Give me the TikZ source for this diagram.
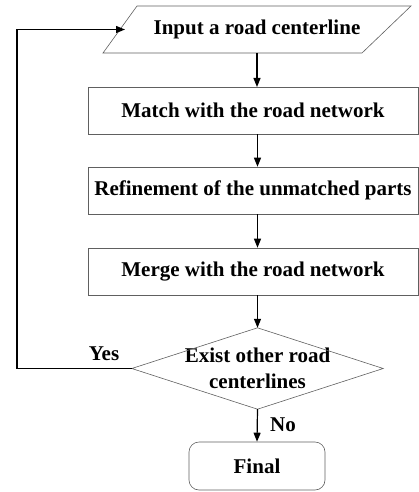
\documentclass[tikz,border=0pt]{standalone}
\usepackage{fontspec}
\setmainfont{Liberation Serif}
\usetikzlibrary{shapes.geometric,arrows.meta}
\begin{document}
\begin{tikzpicture}[x=1pt,y=-1pt,
  txt/.style={font=\fontsize{21}{26.5}\selectfont\bfseries, text=black},
  border/.style={draw=gray!75!black, line width=0.6pt},
  procbox/.style={txt, border, minimum width=330pt, minimum height=47pt, inner sep=0pt},
  decbox/.style={txt, minimum width=251pt, minimum height=81pt, inner sep=0pt, align=center},
  endbox/.style={txt, border, rounded corners=10pt, minimum width=136pt, minimum height=48pt, inner sep=0pt},
  flow/.style={line width=1.2pt, -{Triangle[length=9pt,width=7pt]}},
  lbl/.style={txt}]
\useasboundingbox (0,0) rectangle (419,492);
% parallelogram input
\node[txt, minimum width=240pt, minimum height=47pt, inner sep=0pt] (input) at (257,29.5) {Input a road centerline};
\draw[border] (137,6) -- (411,6) -- (362,53) -- (103,53) -- cycle;
\coordinate (inleft) at (125,29.5);
\node[procbox] (match) at (253,110.5) {Match with the road network};
\node[procbox] (refine) at (253,190.5) {Refinement of the unmatched parts};
\node[procbox] (merge) at (253,271.5) {Merge with the road network};
\node[decbox] (exist) at (257.5,368.5) {Exist other road\\centerlines};
\draw[border] (exist.north) -- (exist.east) -- (exist.south) -- (exist.west) -- cycle;
\node[endbox] (final) at (257,466) {Final};
\draw[flow] (257,53) -- (257,87);
\draw[flow] (match.south -| exist.north) -- (refine.north -| exist.north);
\draw[flow] (refine.south -| exist.north) -- (merge.north -| exist.north);
\draw[flow] (merge.south -| exist.north) -- (exist.north);
\draw[flow] (exist.south) -- (final.north);
\coordinate (loopbot) at (17,368.5);
\coordinate (looptop) at (17,29.5);
\draw[flow] (exist.west) -- (loopbot) -- (looptop) -- (inleft);
\node[lbl] (yes) at (104,354) {Yes};
\node[lbl] (no) at (283,425) {No};
\end{tikzpicture}
\end{document}
